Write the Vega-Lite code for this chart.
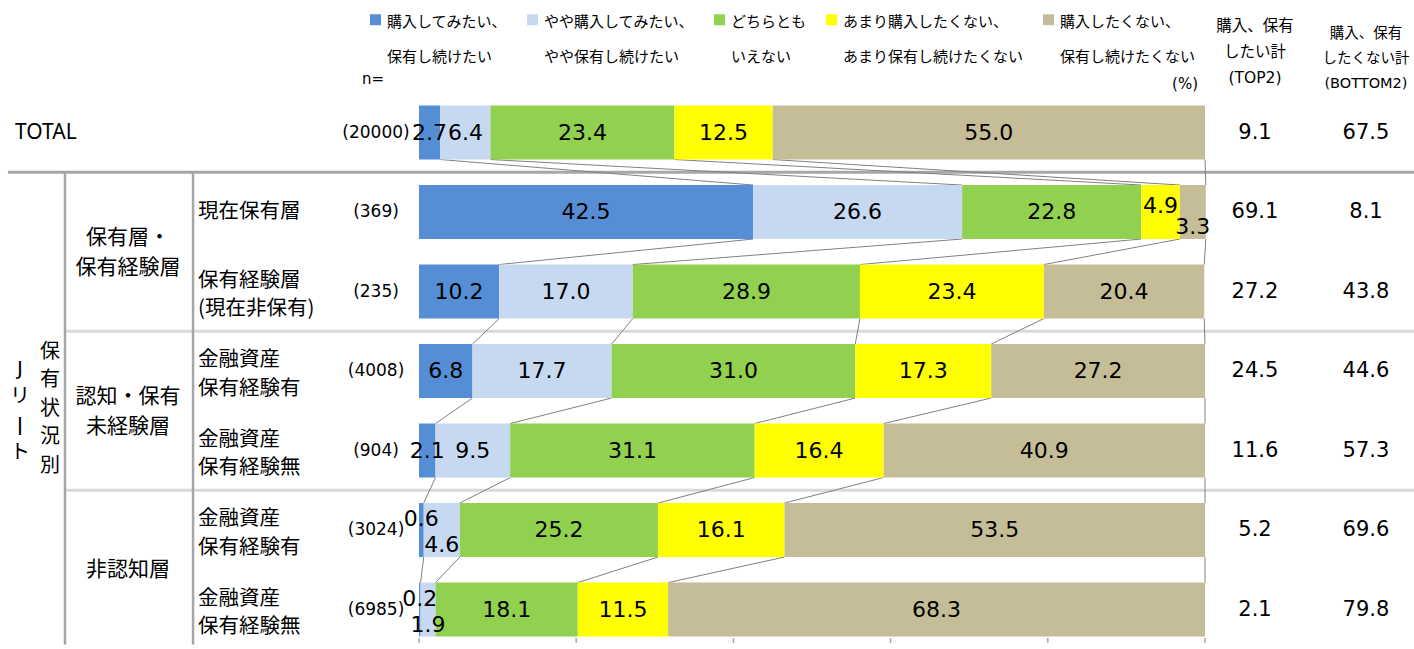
{
 "$schema": "https://vega.github.io/schema/vega-lite/v6.json",
 "width": 1414, "height": 649,
 "autosize": {"type": "none"},
 "padding": 0,
 "background": "white",
 "config": {"view": {"stroke": null}},
 "datasets": {
  "cats": [
   {"k": 1, "cat": "購入してみたい、\n保有し続けたい"},
   {"k": 2, "cat": "やや購入してみたい、\nやや保有し続けたい"},
   {"k": 3, "cat": "どちらとも\nいえない"},
   {"k": 4, "cat": "あまり購入したくない、\nあまり保有し続けたくない"},
   {"k": 5, "cat": "購入したくない、\n保有し続けたくない"}
  ],
  "ticks": [{"t": 0}, {"t": 20}, {"t": 40}, {"t": 60}, {"t": 80}, {"t": 100}],
  "rows": [
   {"row": 0, "label": "TOTAL", "grp": "", "n": 20000, "top2": 9.1, "bottom2": 67.5},
   {"row": 1, "label": "現在保有層", "grp": "保有層・\n保有経験層", "n": 369, "top2": 69.1, "bottom2": 8.1},
   {"row": 2, "label": "保有経験層\n(現在非保有)", "grp": "保有層・\n保有経験層", "n": 235, "top2": 27.2, "bottom2": 43.8},
   {"row": 3, "label": "金融資産\n保有経験有", "grp": "認知・保有\n未経験層", "n": 4008, "top2": 24.5, "bottom2": 44.6},
   {"row": 4, "label": "金融資産\n保有経験無", "grp": "認知・保有\n未経験層", "n": 904, "top2": 11.6, "bottom2": 57.3},
   {"row": 5, "label": "金融資産\n保有経験有", "grp": "非認知層", "n": 3024, "top2": 5.2, "bottom2": 69.6},
   {"row": 6, "label": "金融資産\n保有経験無", "grp": "非認知層", "n": 6985, "top2": 2.1, "bottom2": 79.8}
  ],
  "segs": [
   {"row": 0, "k": 1, "value": 2.7}, {"row": 0, "k": 2, "value": 6.4}, {"row": 0, "k": 3, "value": 23.4}, {"row": 0, "k": 4, "value": 12.5}, {"row": 0, "k": 5, "value": 55.0},
   {"row": 1, "k": 1, "value": 42.5}, {"row": 1, "k": 2, "value": 26.6}, {"row": 1, "k": 3, "value": 22.8}, {"row": 1, "k": 4, "value": 4.9}, {"row": 1, "k": 5, "value": 3.3},
   {"row": 2, "k": 1, "value": 10.2}, {"row": 2, "k": 2, "value": 17.0}, {"row": 2, "k": 3, "value": 28.9}, {"row": 2, "k": 4, "value": 23.4}, {"row": 2, "k": 5, "value": 20.4},
   {"row": 3, "k": 1, "value": 6.8}, {"row": 3, "k": 2, "value": 17.7}, {"row": 3, "k": 3, "value": 31.0}, {"row": 3, "k": 4, "value": 17.3}, {"row": 3, "k": 5, "value": 27.2},
   {"row": 4, "k": 1, "value": 2.1}, {"row": 4, "k": 2, "value": 9.5}, {"row": 4, "k": 3, "value": 31.1}, {"row": 4, "k": 4, "value": 16.4}, {"row": 4, "k": 5, "value": 40.9},
   {"row": 5, "k": 1, "value": 0.6}, {"row": 5, "k": 2, "value": 4.6}, {"row": 5, "k": 3, "value": 25.2}, {"row": 5, "k": 4, "value": 16.1}, {"row": 5, "k": 5, "value": 53.5},
   {"row": 6, "k": 1, "value": 0.2}, {"row": 6, "k": 2, "value": 1.9}, {"row": 6, "k": 3, "value": 18.1}, {"row": 6, "k": 4, "value": 11.5}, {"row": 6, "k": 5, "value": 68.3}
  ]
 },
 "layer": [
  {
   "data": {"values": [{}]},
   "mark": {"type": "rule", "color": "#A6A6A6", "strokeWidth": 3},
   "encoding": {
    "x": {"datum": -52.3, "type": "quantitative", "scale": {"domain": [-53.31, 126.59], "nice": false, "zero": false}, "axis": null},
    "x2": {"datum": 126.59},
    "y": {"datum": 0.5, "type": "quantitative", "scale": {"domain": [-1.604, 6.433], "reverse": true, "nice": false, "zero": false}, "axis": null}
   }
  },
  {
   "data": {"values": [{}]},
   "mark": {"type": "rule", "color": "#D9D9D9", "strokeWidth": 3},
   "encoding": {"x": {"datum": -45.04, "axis": null}, "x2": {"datum": 126.59}, "y": {"datum": 2.5, "axis": null}}
  },
  {
   "data": {"values": [{}]},
   "mark": {"type": "rule", "color": "#D9D9D9", "strokeWidth": 3},
   "encoding": {"x": {"datum": -45.04, "axis": null}, "x2": {"datum": 126.59}, "y": {"datum": 4.5, "axis": null}}
  },
  {
   "data": {"values": [{}]},
   "mark": {"type": "rule", "color": "#A6A6A6", "strokeWidth": 2.5},
   "encoding": {"x": {"datum": -45.04, "axis": null}, "y": {"datum": 0.5, "axis": null}, "y2": {"datum": 6.44}}
  },
  {
   "data": {"values": [{}]},
   "mark": {"type": "rule", "color": "#A6A6A6", "strokeWidth": 2.5},
   "encoding": {"x": {"datum": -28.75, "axis": null}, "y": {"datum": 0.5, "axis": null}, "y2": {"datum": 6.44}}
  },
  {
   "data": {"name": "ticks"},
   "mark": {"type": "rule", "color": "#A6A6A6", "strokeWidth": 1.5},
   "encoding": {"x": {"field": "t", "type": "quantitative", "axis": null}, "y": {"datum": 6.359, "axis": null}, "y2": {"datum": 6.421}}
  },
  {
   "data": {"name": "segs"},
   "transform": [
    {"window": [{"op": "sum", "field": "value", "as": "cum"}], "groupby": ["row"], "sort": [{"field": "k"}], "frame": [null, 0]},
    {"window": [{"op": "lead", "field": "cum", "as": "nextCum"}, {"op": "lead", "field": "row", "as": "nextRow"}], "groupby": ["k"], "sort": [{"field": "row"}]},
    {"filter": "isValid(datum.nextRow)"}
   ],
   "mark": {"type": "rule", "color": "#808080", "strokeWidth": 1, "yOffset": 27, "y2Offset": -27},
   "encoding": {
    "x": {"field": "cum", "type": "quantitative", "axis": null},
    "x2": {"field": "nextCum"},
    "y": {"field": "row", "type": "quantitative", "axis": null},
    "y2": {"field": "nextRow"}
   }
  },
  {
   "data": {"name": "segs"},
   "transform": [
    {"lookup": "k", "from": {"data": {"name": "cats"}, "key": "k", "fields": ["cat"]}},
    {"window": [{"op": "sum", "field": "value", "as": "cum"}], "groupby": ["row"], "sort": [{"field": "k"}], "frame": [null, 0]},
    {"calculate": "datum.cum - datum.value", "as": "start"}
   ],
   "mark": {"type": "bar", "orient": "horizontal", "size": 54},
   "encoding": {
    "x": {"field": "start", "type": "quantitative", "axis": null},
    "x2": {"field": "cum"},
    "y": {"field": "row", "type": "quantitative", "axis": null},
    "color": {
     "field": "cat", "type": "nominal",
     "scale": {
      "domain": ["購入してみたい、\n保有し続けたい", "やや購入してみたい、\nやや保有し続けたい", "どちらとも\nいえない", "あまり購入したくない、\nあまり保有し続けたくない", "購入したくない、\n保有し続けたくない"],
      "range": ["#558ED5", "#C6D9F1", "#92D050", "#FFFF00", "#C4BD97"]
     },
     "legend": {
      "orient": "none", "legendX": 368, "legendY": 12, "direction": "horizontal", "columns": 5,
      "title": null, "symbolType": "square", "symbolSize": 121, "symbolStrokeWidth": 0,
      "labelFont": "Noto Sans CJK JP", "labelFontSize": 15, "labelColor": "#000000",
      "labelExpr": "split(datum.label, '\\n')", "labelBaseline": "top",
      "columnPadding": 17, "labelOffset": 4, "labelLimit": 400,
      "encode": {"labels": {"update": {"lineHeight": {"value": 35}, "dy": {"value": -5}}}}
     }
    }
   }
  },
  {
   "data": {"name": "segs"},
   "transform": [
    {"window": [{"op": "sum", "field": "value", "as": "cum"}], "groupby": ["row"], "sort": [{"field": "k"}], "frame": [null, 0]},
    {"calculate": "datum.cum - datum.value / 2", "as": "mid"},
    {"filter": "!((datum.row >= 5 && datum.k <= 2) || (datum.row == 1 && datum.k >= 4))"}
   ],
   "mark": {"type": "text", "font": "DejaVu Sans", "fontSize": 22, "color": "#000000", "align": "center", "baseline": "middle"},
   "encoding": {
    "x": {"field": "mid", "type": "quantitative", "axis": null},
    "y": {"field": "row", "type": "quantitative", "axis": null},
    "text": {"field": "value", "type": "quantitative", "format": ".1f"}
   }
  },
  {
   "data": {"name": "segs"},
   "transform": [
    {"window": [{"op": "sum", "field": "value", "as": "cum"}], "groupby": ["row"], "sort": [{"field": "k"}], "frame": [null, 0]},
    {"calculate": "datum.cum - datum.value / 2", "as": "mid"},
    {"filter": "datum.row >= 5 && datum.k == 1"}
   ],
   "mark": {"type": "text", "font": "DejaVu Sans", "fontSize": 22, "color": "#000000", "align": "center", "baseline": "middle", "dy": -11},
   "encoding": {
    "x": {"field": "mid", "type": "quantitative", "axis": null},
    "y": {"field": "row", "type": "quantitative", "axis": null},
    "text": {"field": "value", "type": "quantitative", "format": ".1f"}
   }
  },
  {
   "data": {"name": "segs"},
   "transform": [
    {"window": [{"op": "sum", "field": "value", "as": "cum"}], "groupby": ["row"], "sort": [{"field": "k"}], "frame": [null, 0]},
    {"calculate": "datum.cum - datum.value / 2", "as": "mid"},
    {"filter": "datum.row == 1 && datum.k == 4"}
   ],
   "mark": {"type": "text", "font": "DejaVu Sans", "fontSize": 22, "color": "#000000", "align": "center", "baseline": "middle", "dy": -6},
   "encoding": {
    "x": {"field": "mid", "type": "quantitative", "axis": null},
    "y": {"field": "row", "type": "quantitative", "axis": null},
    "text": {"field": "value", "type": "quantitative", "format": ".1f"}
   }
  },
  {
   "data": {"name": "segs"},
   "transform": [
    {"window": [{"op": "sum", "field": "value", "as": "cum"}], "groupby": ["row"], "sort": [{"field": "k"}], "frame": [null, 0]},
    {"calculate": "datum.cum - datum.value / 2", "as": "mid"},
    {"filter": "(datum.row >= 5 && datum.k == 2) || (datum.row == 1 && datum.k == 5)"}
   ],
   "mark": {"type": "text", "font": "DejaVu Sans", "fontSize": 22, "color": "#000000", "align": "center", "baseline": "middle", "dy": 15},
   "encoding": {
    "x": {"field": "mid", "type": "quantitative", "axis": null},
    "y": {"field": "row", "type": "quantitative", "axis": null},
    "text": {"field": "value", "type": "quantitative", "format": ".1f"}
   }
  },
  {
   "data": {"name": "rows"},
   "transform": [{"filter": "datum.row == 0"}],
   "mark": {"type": "text", "font": "Noto Sans", "fontSize": 21, "color": "#000000", "align": "left", "baseline": "middle"},
   "encoding": {
    "x": {"datum": -51.4, "axis": null},
    "y": {"field": "row", "type": "quantitative", "axis": null},
    "text": {"field": "label"}
   }
  },
  {
   "data": {"name": "rows"},
   "transform": [{"filter": "datum.row == 1"}],
   "mark": {"type": "text", "font": "Noto Sans CJK JP", "fontSize": 20.5, "color": "#000000", "align": "left", "baseline": "middle"},
   "encoding": {
    "x": {"datum": -28.12, "axis": null},
    "y": {"field": "row", "type": "quantitative", "axis": null},
    "text": {"field": "label"}
   }
  },
  {
   "data": {"name": "rows"},
   "transform": [{"filter": "datum.row >= 2"}],
   "mark": {"type": "text", "font": "Noto Sans CJK JP", "fontSize": 20.5, "color": "#000000", "align": "left", "baseline": "middle", "lineBreak": "\n", "lineHeight": 28.5, "dy": -11},
   "encoding": {
    "x": {"datum": -28.12, "axis": null},
    "y": {"field": "row", "type": "quantitative", "axis": null},
    "text": {"field": "label"}
   }
  },
  {
   "data": {"name": "rows"},
   "transform": [{"filter": "datum.row > 0"}, {"aggregate": [{"op": "mean", "field": "row", "as": "gy"}], "groupby": ["grp"]}, {"filter": "indexof(datum.grp, '\\n') >= 0"}],
   "mark": {"type": "text", "font": "Noto Sans CJK JP", "fontSize": 21, "color": "#000000", "align": "center", "baseline": "middle", "lineBreak": "\n", "lineHeight": 30, "dy": -14},
   "encoding": {
    "x": {"datum": -37.02, "axis": null},
    "y": {"field": "gy", "type": "quantitative", "axis": null},
    "text": {"field": "grp"}
   }
  },
  {
   "data": {"name": "rows"},
   "transform": [{"filter": "datum.row > 0"}, {"aggregate": [{"op": "mean", "field": "row", "as": "gy"}], "groupby": ["grp"]}, {"filter": "indexof(datum.grp, '\\n') < 0"}],
   "mark": {"type": "text", "font": "Noto Sans CJK JP", "fontSize": 21, "color": "#000000", "align": "center", "baseline": "middle"},
   "encoding": {
    "x": {"datum": -37.02, "axis": null},
    "y": {"field": "gy", "type": "quantitative", "axis": null},
    "text": {"field": "grp"}
   }
  },
  {
   "data": {"name": "rows"},
   "transform": [{"calculate": "'(' + datum.n + ')'", "as": "nl"}],
   "mark": {"type": "text", "font": "DejaVu Sans", "fontSize": 17, "color": "#000000", "align": "center", "baseline": "middle"},
   "encoding": {
    "x": {"datum": -5.47, "axis": null},
    "y": {"field": "row", "type": "quantitative", "axis": null},
    "text": {"field": "nl"}
   }
  },
  {
   "data": {"name": "rows"},
   "mark": {"type": "text", "font": "DejaVu Sans", "fontSize": 21, "color": "#000000", "align": "center", "baseline": "middle"},
   "encoding": {
    "x": {"datum": 106.36, "axis": null},
    "y": {"field": "row", "type": "quantitative", "axis": null},
    "text": {"field": "top2", "type": "quantitative", "format": ".1f"}
   }
  },
  {
   "data": {"name": "rows"},
   "mark": {"type": "text", "font": "DejaVu Sans", "fontSize": 21, "color": "#000000", "align": "center", "baseline": "middle"},
   "encoding": {
    "x": {"datum": 120.48, "axis": null},
    "y": {"field": "row", "type": "quantitative", "axis": null},
    "text": {"field": "bottom2", "type": "quantitative", "format": ".1f"}
   }
  },
  {
   "data": {"values": [{}]},
   "mark": {"type": "text", "text": ["J", "リ", "ǀ", "ト"], "font": "DejaVu Sans, Noto Sans CJK JP", "fontSize": 20, "color": "#000000", "align": "center", "baseline": "middle", "lineHeight": 28, "dy": -42},
   "encoding": {"x": {"datum": -50.76, "axis": null}, "y": {"datum": 3.5, "axis": null}}
  },
  {
   "data": {"values": [{}]},
   "mark": {"type": "text", "text": ["保", "有", "状", "況", "別"], "font": "Noto Sans CJK JP", "fontSize": 20, "color": "#000000", "align": "center", "baseline": "middle", "lineHeight": 28.5, "dy": -59},
   "encoding": {"x": {"datum": -46.95, "axis": null}, "y": {"datum": 3.5, "axis": null}}
  },
  {
   "data": {"values": [{}]},
   "mark": {"type": "text", "text": ["購入、保有", "したい計", "(TOP2)"], "font": "DejaVu Sans, Noto Sans CJK JP", "fontSize": 15.5, "color": "#000000", "align": "center", "baseline": "middle", "lineHeight": 26},
   "encoding": {"x": {"datum": 106.36, "axis": null}, "y": {"datum": -1.34, "axis": null}}
  },
  {
   "data": {"values": [{}]},
   "mark": {"type": "text", "text": ["購入、保有", "したくない計", "(BOTTOM2)"], "font": "DejaVu Sans, Noto Sans CJK JP", "fontSize": 14.5, "color": "#000000", "align": "center", "baseline": "middle", "lineHeight": 25},
   "encoding": {"x": {"datum": 120.48, "axis": null}, "y": {"datum": -1.24, "axis": null}}
  },
  {
   "data": {"values": [{}]},
   "mark": {"type": "text", "text": "n=", "font": "DejaVu Sans", "fontSize": 15, "color": "#000000", "align": "left", "baseline": "middle"},
   "encoding": {"x": {"datum": -7.25, "axis": null}, "y": {"datum": -0.675, "axis": null}}
  },
  {
   "data": {"values": [{}]},
   "mark": {"type": "text", "text": "(%)", "font": "DejaVu Sans", "fontSize": 15, "color": "#000000", "align": "right", "baseline": "middle"},
   "encoding": {"x": {"datum": 99.11, "axis": null}, "y": {"datum": -0.613, "axis": null}}
  }
 ]
}
